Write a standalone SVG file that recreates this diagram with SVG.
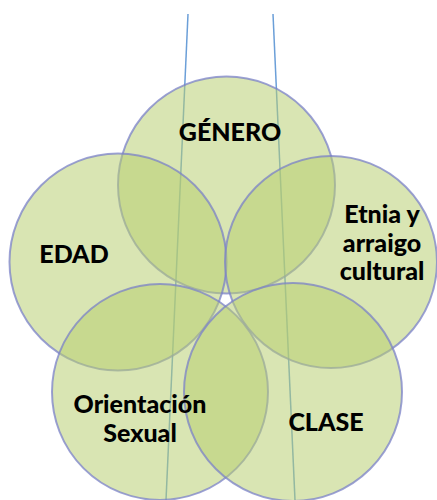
<svg xmlns="http://www.w3.org/2000/svg" width="437" height="500" viewBox="0 0 437 500">
<style>
.c{fill:#b7ce70;fill-opacity:0.53;stroke:#7b82c8;stroke-opacity:0.75;stroke-width:2}
.l{stroke:#6b9fd8;stroke-width:1.5;fill:none}
text{font-family:Lato,"Open Sans",sans-serif;font-weight:900;font-size:25px;fill:#000;text-anchor:middle}
</style>
<rect width="437" height="500" fill="#fff"/>
<g id="connectors">
<line class="l" x1="188" y1="14" x2="166" y2="500"/>
<line class="l" x1="273" y1="14" x2="295" y2="500"/>
</g>
<g id="genero"><circle class="c" cx="226.5" cy="185" r="108.5"/></g>
<g id="edad"><circle class="c" cx="118" cy="262" r="108.5"/></g>
<g id="etnia"><circle class="c" cx="331" cy="262" r="106"/></g>
<g id="orientacion"><circle class="c" cx="160" cy="392" r="108"/></g>
<g id="clase"><circle class="c" cx="293" cy="392" r="109"/></g>
<g id="labels">
<text x="230" y="141">GÉNERO</text>
<text x="74" y="263">EDAD</text>
<text x="382" y="223">Etnia y</text>
<text x="382" y="252">arraigo</text>
<text x="382" y="280">cultural</text>
<text x="140" y="413">Orientación</text>
<text x="140" y="442">Sexual</text>
<text x="326" y="431">CLASE</text>
</g>
</svg>
